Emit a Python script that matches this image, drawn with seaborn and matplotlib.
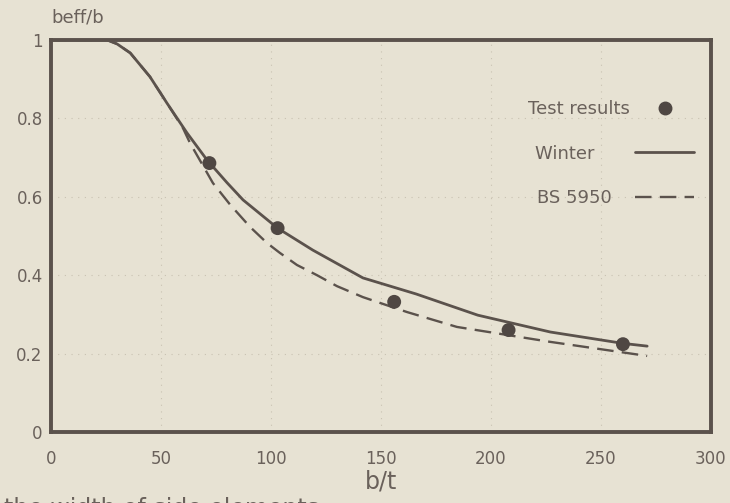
import matplotlib
matplotlib.use("Agg")
import matplotlib.pyplot as plt
import seaborn as sns
import pandas as pd
from matplotlib.lines import Line2D

# ---- data ----
test_bt = [72, 103, 156, 208, 260]
test_beff = [0.686, 0.520, 0.332, 0.260, 0.224]

winter_bt = [0, 25.5, 30, 36, 45, 52.7, 61.8, 70.9, 80, 87.3, 103, 119, 141.8, 166, 194, 227, 260, 271]
winter_beff = [1.0, 1.0, 0.99, 0.967, 0.906, 0.839, 0.763, 0.694, 0.636, 0.592, 0.520, 0.464, 0.393, 0.352, 0.298, 0.255, 0.226, 0.219]

bs_bt = [0, 25.5, 30, 36, 45, 52.7, 60, 63.2, 68, 73.6, 81.4, 90.5, 98.2, 104, 111.8, 120.9, 130, 141.8, 161.8, 184.5, 226.8, 271]
bs_beff = [1.0, 1.0, 0.99, 0.967, 0.906, 0.839, 0.775, 0.737, 0.69, 0.635, 0.58, 0.523, 0.482, 0.457, 0.426, 0.40, 0.372, 0.344, 0.306, 0.268, 0.230, 0.194]

x_ticks = [0, 50, 100, 150, 200, 250, 300]
y_ticks = [0, 0.2, 0.4, 0.6, 0.8, 1]
y_tick_labels = ["0", "0.2", "0.4", "0.6", "0.8", "1"]

legend_labels = ["Test results", "Winter", "BS 5950"]

# ---- style ----
paper = "#e7e2d3"
ink = "#5b524c"
text_col = "#6a615b"
dash = (0, (7, 3.5))

sns.set_theme(style="white")
plt.rcParams["font.family"] = ["DejaVu Sans"]

fig = plt.figure(figsize=(7.3, 5.03), dpi=100, facecolor=paper)
ax = fig.add_axes([0.0699, 0.1412, 0.904, 0.7793])
ax.set_facecolor(paper)

df_test = pd.DataFrame({"bt": test_bt, "beff": test_beff})
df_w = pd.DataFrame({"bt": winter_bt, "beff": winter_beff})
df_bs = pd.DataFrame({"bt": bs_bt, "beff": bs_beff})

sns.lineplot(data=df_w, x="bt", y="beff", ax=ax, color=ink, lw=2.0, sort=False)
sns.lineplot(data=df_bs, x="bt", y="beff", ax=ax, color=ink, lw=1.7, sort=False,
             linestyle=dash)
sns.scatterplot(data=df_test, x="bt", y="beff", ax=ax, color="#4f4743", s=100,
                edgecolor="none", zorder=5)

ax.set_xlim(0, 300)
ax.set_ylim(0, 1)
ax.set_xticks(x_ticks)
ax.set_xticklabels([str(v) for v in x_ticks])
ax.set_yticks(y_ticks)
ax.set_yticklabels(y_tick_labels)
ax.tick_params(axis="both", direction="in", length=5, width=1, color=ink,
               labelsize=12, labelcolor=text_col)
ax.tick_params(axis="x", pad=13)
ax.tick_params(axis="y", pad=6)
ax.grid(True, linestyle=(0, (1, 5)), color="#c9c2b2", lw=0.8)

for s in ax.spines.values():
    s.set_color(ink)
    s.set_linewidth(2.8)

ax.set_xlabel("b/t", fontsize=17, color=text_col, labelpad=1)
ax.set_ylabel("")
fig.text(0.0699, 0.966, "beff/b", fontsize=13, color=text_col, ha="left", va="center")

handles = [
    Line2D([], [], marker="o", ls="none", color="#4f4743", markersize=9),
    Line2D([], [], color=ink, lw=2.0),
    Line2D([], [], color=ink, lw=1.7, linestyle=dash),
]
# pad shorter labels so the text column sits roughly as in the original
padded = [legend_labels[0], legend_labels[1] + " " * 6, legend_labels[2] + " " * 3]
leg = ax.legend(handles, padded, loc="upper right", bbox_to_anchor=(0.986, 0.865),
                borderaxespad=0, frameon=False, markerfirst=False, handlelength=3.3,
                handletextpad=0.3, labelspacing=1.47, fontsize=13)
for t in leg.get_texts():
    t.set_color(text_col)

fig.text(0.005, 0.012, "the width of side elements", fontsize=17, color=text_col,
         ha="left", va="top")

fig.savefig("out.png", dpi=100, facecolor=paper)
